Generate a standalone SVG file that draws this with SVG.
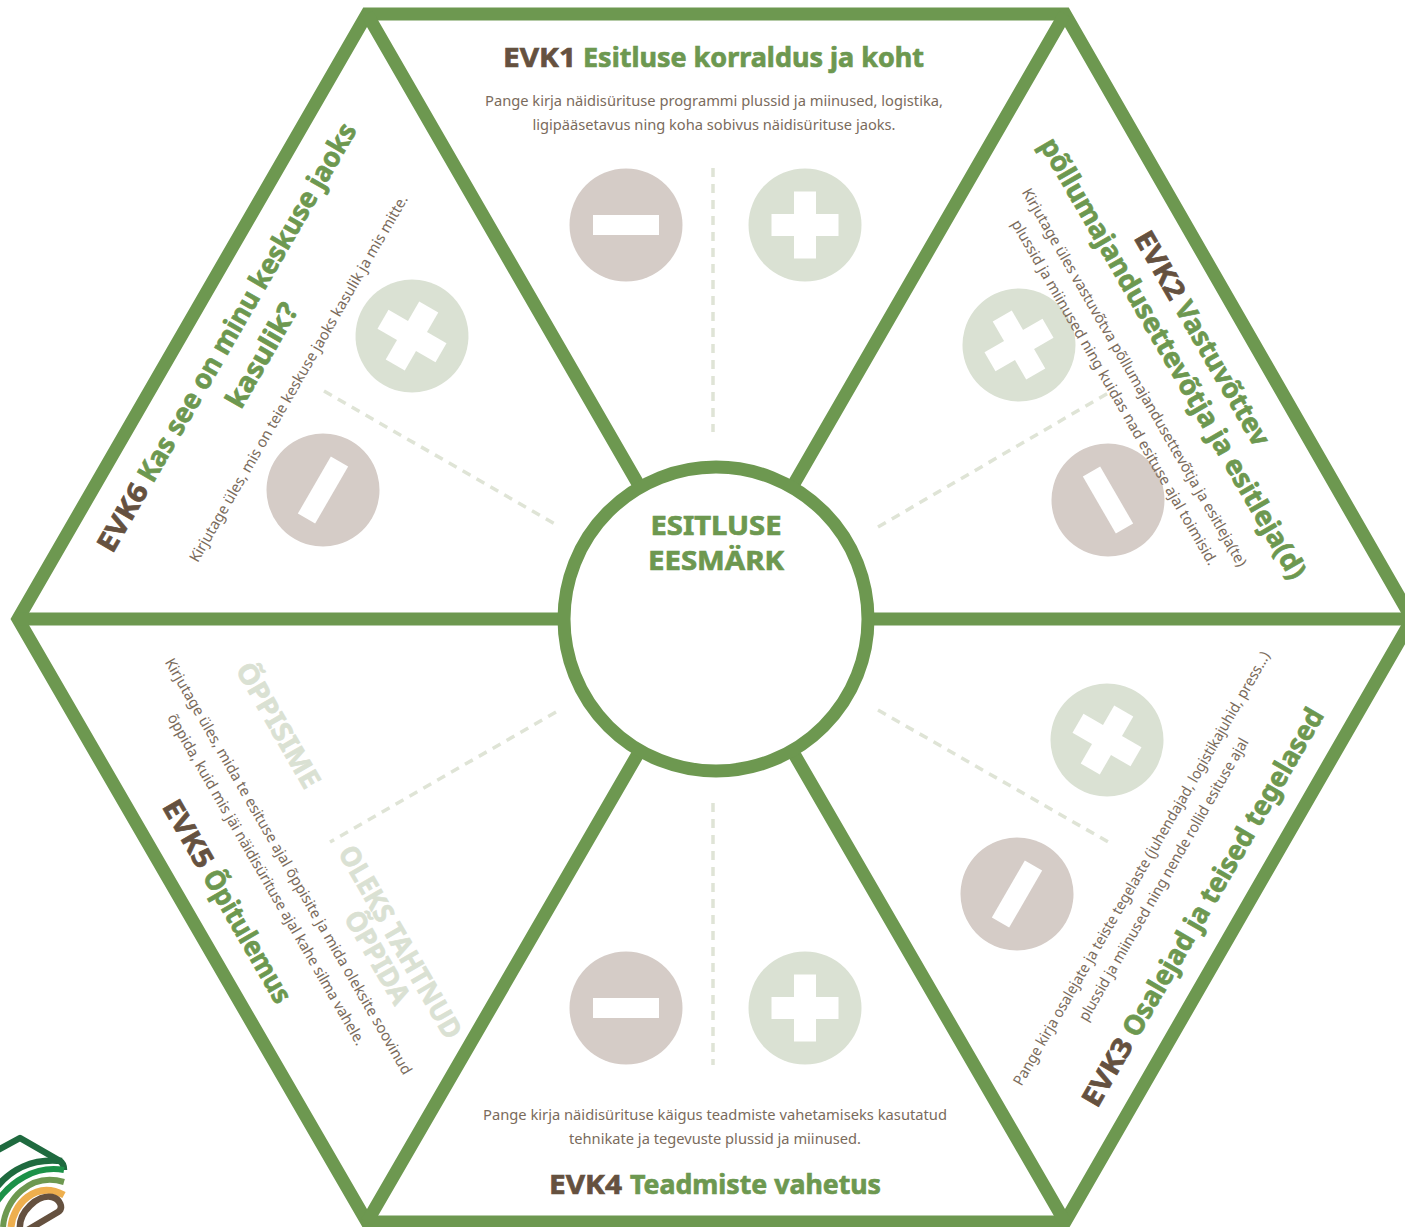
<svg xmlns="http://www.w3.org/2000/svg" width="1405" height="1227" viewBox="0 0 1405 1227">
<style>
text{font-family:"Noto Sans","Open Sans","Liberation Sans",sans-serif;text-anchor:middle}
.h{font-size:27.500px;font-weight:700;fill:#6d9850;stroke:#6d9850;stroke-width:.7;text-anchor:start}
.e{fill:#65513f;stroke:#65513f}
.a{text-anchor:middle}
.b{font-size:15px;font-weight:400;fill:#7a6b5c}
.c{font-size:27.500px;font-weight:700;fill:#6d9850;stroke:#6d9850;stroke-width:.7}
.l{font-size:27.500px;font-weight:700;fill:#dae1d3;stroke:#dae1d3;stroke-width:.7}
.d{fill:none;stroke:#dfe4d6;stroke-width:3.5;stroke-dasharray:9 7}
.p{fill:#dae1d3}.m{fill:#d5ccc7}.w{fill:#fff}
</style>
<defs>
<g id="plus"><circle class="p" r="56.500"/><rect class="w" x="-33.500" y="-11" width="67" height="22"/><rect class="w" x="-11" y="-33.500" width="22" height="67"/></g>
<g id="minus"><circle class="m" r="56.500"/><rect class="w" x="-33" y="-10" width="66" height="20"/></g>
</defs>
<rect width="1405" height="1227" fill="#fff"/>
<g id="connectors">
<path d="M18 619L367 14H1065L1412 619L1065 1222H367Z" fill="none" stroke="#6d9850" stroke-width="13" stroke-linejoin="miter"/>
<path d="M367 14L716 619L1065 14M18 619H1412M367 1222L716 619L1065 1222" fill="none" stroke="#6d9850" stroke-width="13"/>
<path class="d" d="M713 168V432"/><path class="d" d="M713 803V1065"/>
<path class="d" d="M878 527L1110 392"/><path class="d" d="M878 710L1110 843"/>
<path class="d" d="M556 712L330 842"/><path class="d" d="M324 391L555 524"/>
</g>
<g id="center"><circle cx="716" cy="619" r="152" fill="#fff" stroke="#6d9850" stroke-width="13"/>
<text class="c" x="716" y="535" textLength="131" lengthAdjust="spacingAndGlyphs">ESITLUSE</text>
<text class="c" x="716" y="570" textLength="136" lengthAdjust="spacingAndGlyphs">EESMÄRK</text></g>
<g id="evk1">
<use href="#minus" x="626" y="225"/><use href="#plus" x="805" y="225"/>
<text class="h e" x="503" y="67" textLength="73" lengthAdjust="spacingAndGlyphs">EVK1</text>
<text class="h" x="583" y="67" textLength="341" lengthAdjust="spacingAndGlyphs">Esitluse korraldus ja koht</text>
<text class="b" x="714" y="106" textLength="458" lengthAdjust="spacingAndGlyphs">Pange kirja näidisürituse programmi plussid ja miinused, logistika,</text>
<text class="b" x="714" y="130" textLength="363" lengthAdjust="spacingAndGlyphs">ligipääsetavus ning koha sobivus näidisürituse jaoks.</text>
</g>
<g id="evk2">
<use href="#plus" transform="translate(1019 345) rotate(60)"/><use href="#minus" transform="translate(1108 500) rotate(60)"/>
<g transform="translate(1194 343) rotate(60)">
<text class="h e" x="-121.500" textLength="74" lengthAdjust="spacingAndGlyphs">EVK2</text>
<text class="h" x="-40.500" textLength="162" lengthAdjust="spacingAndGlyphs">Vastuvõttev</text></g>
<text class="h a" transform="translate(1165 363) rotate(60)" textLength="504" lengthAdjust="spacingAndGlyphs">põllumajandusettevõtja ja esitleja(d)</text>
<text class="b" transform="translate(1130 380) rotate(60)" textLength="434" lengthAdjust="spacingAndGlyphs">Kirjutage üles vastuvõtva põllumajandusettevõtja ja esitleja(te)</text>
<text class="b" transform="translate(1110 395) rotate(60)" textLength="396" lengthAdjust="spacingAndGlyphs">plussid ja miinused ning kuidas nad esituse ajal toimisid.</text>
</g>
<g id="evk3">
<use href="#plus" transform="translate(1107 740) rotate(-60)"/><use href="#minus" transform="translate(1017 894) rotate(-60)"/>
<g transform="translate(1211 912) rotate(-60)">
<text class="h e" x="-227.500" textLength="74" lengthAdjust="spacingAndGlyphs">EVK3</text>
<text class="h" x="-146.500" textLength="374" lengthAdjust="spacingAndGlyphs">Osalejad ja teised tegelased</text></g>
<text class="b" transform="translate(1146 871) rotate(-60)" textLength="498" lengthAdjust="spacingAndGlyphs">Pange kirja osalejate ja teiste tegelaste (juhendajad, logistikajuhid, press…)</text>
<text class="b" transform="translate(1168 882) rotate(-60)" textLength="324" lengthAdjust="spacingAndGlyphs">plussid ja miinused ning nende rollid esituse ajal</text>
</g>
<g id="evk4">
<use href="#minus" x="626" y="1008"/><use href="#plus" x="805" y="1008"/>
<text class="h e" x="549" y="1194" textLength="73" lengthAdjust="spacingAndGlyphs">EVK4</text>
<text class="h" x="630" y="1194" textLength="251" lengthAdjust="spacingAndGlyphs">Teadmiste vahetus</text>
<text class="b" x="715" y="1120" textLength="464" lengthAdjust="spacingAndGlyphs">Pange kirja näidisürituse käigus teadmiste vahetamiseks kasutatud</text>
<text class="b" x="715" y="1144" textLength="292" lengthAdjust="spacingAndGlyphs">tehnikate ja tegevuste plussid ja miinused.</text>
</g>
<g id="evk5">
<g transform="translate(219 906) rotate(60)">
<text class="h e" x="-115" textLength="74" lengthAdjust="spacingAndGlyphs">EVK5</text>
<text class="h" x="-34" textLength="149" lengthAdjust="spacingAndGlyphs">Õpitulemus</text></g>
<text class="b" transform="translate(284 869) rotate(60)" textLength="478" lengthAdjust="spacingAndGlyphs">Kirjutage üles, mida te esituse ajal õppisite ja mida oleksite soovinud</text>
<text class="b" transform="translate(262 882) rotate(60)" textLength="380" lengthAdjust="spacingAndGlyphs">õppida, kuid mis jäi näidisürituse ajal kahe silma vahele.</text>
<text class="l" transform="translate(270 730) rotate(60)" textLength="140" lengthAdjust="spacingAndGlyphs">ÕPPISIME</text>
<text class="l" transform="translate(392 947) rotate(60)" textLength="218" lengthAdjust="spacingAndGlyphs">OLEKS TAHTNUD</text>
<text class="l" transform="translate(369 962) rotate(60)" textLength="103" lengthAdjust="spacingAndGlyphs">ÕPPIDA</text>
</g>
<g id="evk6">
<use href="#plus" transform="translate(412 336) rotate(-60)"/><use href="#minus" transform="translate(323 490) rotate(-60)"/>
<g transform="translate(235 342) rotate(-60)">
<text class="h e" x="-245" textLength="74" lengthAdjust="spacingAndGlyphs">EVK6</text>
<text class="h" x="-164" textLength="409" lengthAdjust="spacingAndGlyphs">Kas see on minu keskuse jaoks</text></g>
<text class="h a" transform="translate(270 360) rotate(-60)" textLength="116" lengthAdjust="spacingAndGlyphs">kasulik?</text>
<text class="b" transform="translate(303 381) rotate(-60)" textLength="421" lengthAdjust="spacingAndGlyphs">Kirjutage üles, mis on teie keskuse jaoks kasulik ja mis mitte.</text>
</g>
<g id="logo" fill="none" stroke-width="6.500">
<path d="M-4 1151L20 1138L60 1161C63 1163 64 1166 64 1170" stroke="#1f6a3f" stroke-linejoin="round"/>
<path d="M-4 1188C10 1170 32 1158 62 1161" stroke="#1f6a3f"/>
<path d="M-4 1203C10 1182 35 1165 64 1170" stroke="#1c9148" stroke-width="6"/>
<path d="M3 1227C5 1200 30 1172 64 1182" stroke="#6d9850" stroke-width="6"/>
<path d="M11 1227C13 1205 35 1180 64 1195" stroke="#eeaf4e" stroke-width="7"/>
<path d="M20 1230C18 1212 38 1194 52 1197C60 1199 64 1208 58 1212L26 1231" stroke="#65513f"/>
</g>
</svg>
